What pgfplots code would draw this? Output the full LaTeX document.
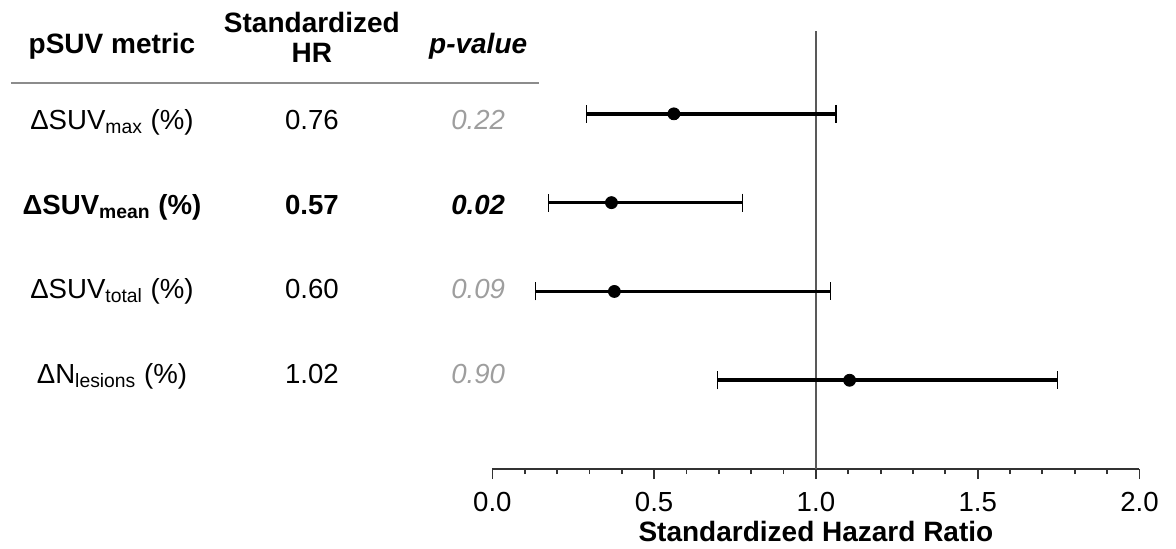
\documentclass[border=0pt]{standalone}
\usepackage{fontspec}
\setmainfont{Liberation Sans}
\usepackage{pgfplots}
\pgfplotsset{compat=1.18}
\definecolor{pgray}{gray}{0.62}
\definecolor{rulegray}{gray}{0.55}

\newcommand{\bodyfont}{\fontsize{13.8}{16}\selectfont}
\newcommand{\headfont}{\fontsize{14}{16}\selectfont\bfseries}

\begin{document}
\begin{tikzpicture}
\begin{axis}[
  x=161.75pt, y=44.4pt,
  xmin=0, xmax=2, ymin=0, ymax=5,
  axis x line*=bottom, axis y line=none,
  clip=false,
  xtick={0,0.5,1,1.5,2}, minor x tick num=4,
  tick align=outside,
  major tick length=5pt, minor tick length=2.5pt,
  x axis line style={black!80, line width=0.9pt},
  tick style={black!80, line width=0.9pt},
  xticklabel style={font=\bodyfont, anchor=base, yshift=-16pt},
  /pgf/number format/.cd, fixed, fixed zerofill, precision=1, assume math mode=true,
  /pgfplots/.cd,
  xlabel={Standardized Hazard Ratio},
  xlabel style={font=\headfont, at={(axis description cs:0.5,-0.1622)}, anchor=base},
]

% reference line at HR = 1
\addplot[black!65, line width=0.8pt] coordinates {(1,0) (1,4.93)};

% rule under the table header
\addplot[rulegray, line width=1pt] coordinates {(-1.488,4.35) (0.144,4.35)};

% point estimates with confidence intervals
\addplot[black, only marks, mark=*, mark size=3pt,
  error bars/.cd, x dir=both, x explicit,
  error bar style={line width=1.8pt},
  error mark options={rotate=90, mark size=4.5pt, line width=0.6pt}]
coordinates {
  (0.561,4) -= (0.269,0) += (0.501,0)
  (0.368,3) -= (0.195,0) += (0.405,0)
  (0.377,2) -= (0.245,0) += (0.668,0)
  (1.104,1) -= (0.409,0) += (0.642,0)
};

% header
\node[anchor=base, font=\headfont] at (axis cs:-1.176,4.685) {pSUV metric};
\node[anchor=base, font=\headfont] at (axis cs:-0.558,4.92) {Standardized};
\node[anchor=base, font=\headfont] at (axis cs:-0.558,4.58) {HR};
\node[anchor=base, font=\headfont\itshape] at (axis cs:-0.044,4.685) {p-value};

% rows
\node[anchor=base, font=\bodyfont] at (axis cs:-1.176,3.829) {ΔSUV\textsubscript{max} (\%)};
\node[anchor=base, font=\bodyfont] at (axis cs:-0.558,3.829) {0.76};
\node[anchor=base, font=\bodyfont\itshape, text=pgray] at (axis cs:-0.044,3.829) {0.22};

\node[anchor=base, font=\bodyfont\bfseries] at (axis cs:-1.176,2.866) {ΔSUV\textsubscript{mean} (\%)};
\node[anchor=base, font=\bodyfont\bfseries] at (axis cs:-0.558,2.866) {0.57};
\node[anchor=base, font=\bodyfont\bfseries\itshape] at (axis cs:-0.044,2.866) {0.02};

\node[anchor=base, font=\bodyfont] at (axis cs:-1.176,1.920) {ΔSUV\textsubscript{total} (\%)};
\node[anchor=base, font=\bodyfont] at (axis cs:-0.558,1.920) {0.60};
\node[anchor=base, font=\bodyfont\itshape, text=pgray] at (axis cs:-0.044,1.920) {0.09};

\node[anchor=base, font=\bodyfont] at (axis cs:-1.176,0.963) {ΔN\textsubscript{lesions} (\%)};
\node[anchor=base, font=\bodyfont] at (axis cs:-0.558,0.963) {1.02};
\node[anchor=base, font=\bodyfont\itshape, text=pgray] at (axis cs:-0.044,0.963) {0.90};

% page frame matching the reference proportions
\path (axis cs:-1.522,-0.890) rectangle (axis cs:2.113,5.282);
\end{axis}
\end{tikzpicture}
\end{document}
